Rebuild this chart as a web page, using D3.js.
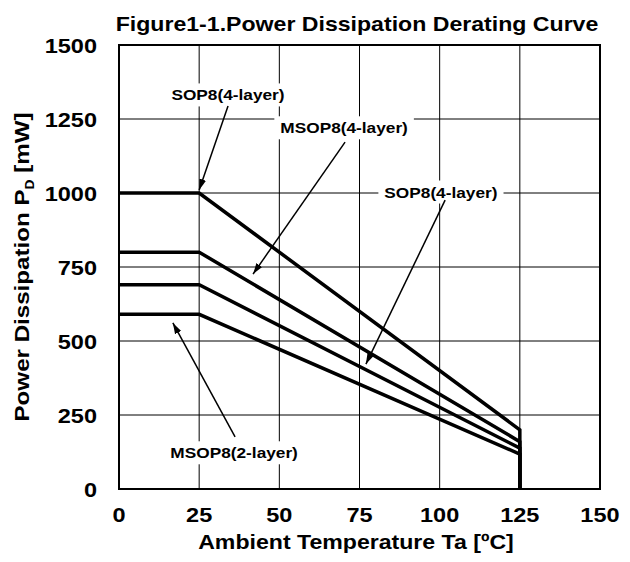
<!DOCTYPE html>
<html>
<head>
<meta charset="utf-8">
<script src="https://cdn.jsdelivr.net/npm/d3@7"></script>
<style>
  body { margin: 0; background: #fff; }
  text { font-family: Arial, "Liberation Sans", sans-serif; font-weight: bold; fill: #000; }
</style>
</head>
<body>
<div id="chart"></div>
<script>
// derating curves: temperature [ºC] vs power dissipation [mW]
const temps = [0, 25, 125, 125];
const series = [
  { name: 'SOP8(4-layer)',  values: [1000, 1000, 200, 0] },
  { name: 'MSOP8(4-layer)', values: [800, 800, 160, 0] },
  { name: 'SOP8(4-layer)b', values: [690, 690, 138, 0] },
  { name: 'MSOP8(2-layer)', values: [590, 590, 118, 0] }
];
const xTicks = [0, 25, 50, 75, 100, 125, 150];
const yTicks = [0, 250, 500, 750, 1000, 1250, 1500];

// callout labels: label centre, arrow start and arrow tip in data units
const notes = [
  { text: 'SOP8(4-layer)',  lx: 34.0,  ly: 1331, sx: 34.0,  sy: 1294, tx: 25.0, ty: 1010 },
  { text: 'MSOP8(4-layer)', lx: 70.2,  ly: 1220, sx: 70.5,  sy: 1172, tx: 41.8, ty: 726 },
  { text: 'SOP8(4-layer)',  lx: 100.4, ly: 1003, sx: 101.7, sy: 976,  tx: 77.0, ty: 422 },
  { text: 'MSOP8(2-layer)', lx: 35.9,  ly: 122,  sx: 36.2,  sy: 176,  tx: 16.8, ty: 561 }
];

const W = 630, H = 562;
const m = { top: 45, right: 30, bottom: 73, left: 119 };
const WIDE = 1.12; // the original lettering is a bit wider than Liberation Sans

const svg = d3.select('#chart').append('svg')
    .attr('width', W)
    .attr('height', H);

const x = d3.scaleLinear().domain([0, 150]).range([m.left, W - m.right]);
const y = d3.scaleLinear().domain([0, 1500]).range([H - m.bottom, m.top]);

// stretch text horizontally
function widen(sel, k) {
  sel.each(function () {
    const len = this.getComputedTextLength();
    d3.select(this)
      .attr('textLength', len * k)
      .attr('lengthAdjust', 'spacingAndGlyphs');
  });
}

// grid
svg.append('g')
  .selectAll('line')
  .data(xTicks.slice(1, -1))
  .join('line')
    .attr('x1', d => x(d)).attr('x2', d => x(d))
    .attr('y1', y(0)).attr('y2', y(1500))
    .attr('stroke', '#000').attr('stroke-width', 1);
svg.append('g')
  .selectAll('line')
  .data(yTicks.slice(1, -1))
  .join('line')
    .attr('x1', x(0)).attr('x2', x(150))
    .attr('y1', d => y(d)).attr('y2', d => y(d))
    .attr('stroke', '#000').attr('stroke-width', 1);

// frame
svg.append('rect')
  .attr('x', x(0)).attr('y', y(1500))
  .attr('width', x(150) - x(0)).attr('height', y(0) - y(1500))
  .attr('fill', 'none').attr('stroke', '#000').attr('stroke-width', 2);

// tick labels
svg.append('g')
  .selectAll('text')
  .data(xTicks)
  .join('text')
    .attr('x', d => x(d))
    .attr('y', y(0) + 33)
    .attr('text-anchor', 'middle')
    .style('font-size', '21px')
    .text(d => d)
    .call(widen, WIDE);
svg.append('g')
  .selectAll('text')
  .data(yTicks)
  .join('text')
    .attr('x', x(0) - 22)
    .attr('y', d => y(d))
    .attr('dy', '0.36em')
    .attr('text-anchor', 'end')
    .style('font-size', '21px')
    .text(d => d)
    .call(widen, WIDE);

// curves
const line = d3.line()
  .x((d, i) => x(temps[i]))
  .y(d => y(d));
svg.append('g')
  .selectAll('path')
  .data(series)
  .join('path')
    .attr('d', d => line(d.values))
    .attr('fill', 'none')
    .attr('stroke', '#000')
    .attr('stroke-width', 3.5)
    .attr('stroke-linejoin', 'miter');

// arrowhead
svg.append('defs').append('marker')
  .attr('id', 'ah')
  .attr('viewBox', '0 -4 11 8')
  .attr('refX', 11).attr('refY', 0)
  .attr('markerWidth', 11).attr('markerHeight', 8)
  .attr('markerUnits', 'userSpaceOnUse')
  .attr('orient', 'auto')
  .append('path')
    .attr('d', 'M0,-3.5L11,0L0,3.5Z')
    .attr('fill', '#000');

// callouts
const g = svg.append('g').selectAll('g').data(notes).join('g');
g.append('line')
  .attr('x1', d => x(d.sx)).attr('y1', d => y(d.sy))
  .attr('x2', d => x(d.tx)).attr('y2', d => y(d.ty))
  .attr('stroke', '#000').attr('stroke-width', 1.5)
  .attr('marker-end', 'url(#ah)');
g.append('text')
  .attr('x', d => x(d.lx)).attr('y', d => y(d.ly))
  .attr('dy', '0.36em')
  .attr('text-anchor', 'middle')
  .style('font-size', '15px')
  .text(d => d.text)
  .call(widen, 1.15)
  .each(function () {
    const b = this.getBBox();
    d3.select(this.parentNode).insert('rect', 'line')
      .attr('x', b.x - 6).attr('y', b.y - 3)
      .attr('width', b.width + 12).attr('height', b.height + 6)
      .attr('fill', '#fff');
  });

// titles
svg.append('text')
  .attr('x', 357).attr('y', 31)
  .attr('text-anchor', 'middle')
  .style('font-size', '21px')
  .text('Figure1-1.Power Dissipation Derating Curve')
  .call(widen, 1.1);

svg.append('text')
  .attr('x', 356).attr('y', 549)
  .attr('text-anchor', 'middle')
  .style('font-size', '21px')
  .text('Ambient Temperature Ta [ºC]')
  .call(widen, 1.1);

const yt = svg.append('text')
  .attr('transform', `translate(29,${(y(0) + y(1500)) / 2}) rotate(-90) scale(1.15,1)`)
  .attr('text-anchor', 'middle')
  .style('font-size', '21px');
yt.append('tspan').text('Power Dissipation P');
yt.append('tspan').attr('dy', 5).style('font-size', '12px').text('D');
yt.append('tspan').attr('dy', -5).text(' [mW]');
</script>
</body>
</html>
